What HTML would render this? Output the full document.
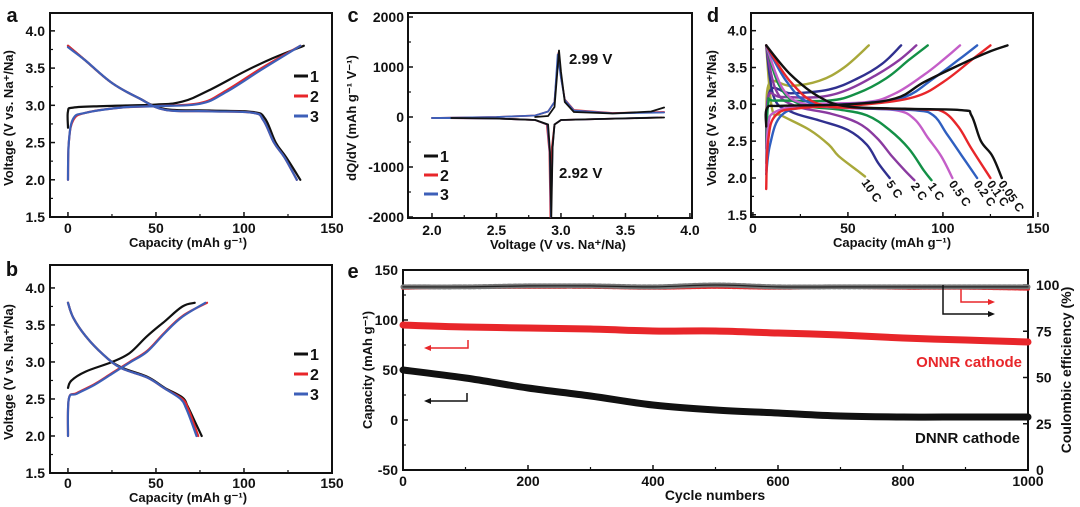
<!DOCTYPE html>
<html><head><meta charset="utf-8">
<style>
html,body{margin:0;padding:0;background:#fff;}
svg{display:block;font-family:"Liberation Sans",Arial,sans-serif;font-weight:bold;}
</style></head>
<body>
<svg id="fig" width="1080" height="507" viewBox="0 0 1080 507" xmlns="http://www.w3.org/2000/svg"></svg>
<script>
// ---------- DATA ----------
const aCharge1=[[0,2.7],[0,2.92],[3,2.97],[20,2.99],[50,3.01],[65,3.05],[80,3.2],[100,3.45],[115,3.62],[134,3.8]];
const aCharge2=[[0,2.0],[0.5,2.5],[3,2.8],[10,2.9],[30,2.97],[50,2.99],[75,3.03],[90,3.2],[110,3.5],[132,3.8]];
const aCharge3=[[0,2.0],[0.5,2.5],[3,2.82],[10,2.9],[30,2.97],[50,2.99],[75,3.02],[90,3.18],[110,3.48],[132,3.8]];
const aDis1=[[0,3.8],[10,3.6],[25,3.3],[40,3.1],[55,2.95],[80,2.93],[105,2.91],[112,2.82],[118,2.5],[124,2.3],[132,2.0]];
const aDis2=[[0,3.8],[10,3.6],[25,3.3],[40,3.1],[55,2.94],[80,2.92],[105,2.9],[111,2.8],[117,2.5],[123,2.3],[130,2.0]];
const aDis3=[[0,3.78],[10,3.6],[25,3.3],[40,3.1],[55,2.94],[80,2.92],[105,2.9],[111,2.8],[117,2.5],[123,2.3],[130,2.0]];
const bCharge1=[[0,2.65],[2,2.75],[10,2.87],[25,3.0],[35,3.12],[45,3.35],[55,3.55],[65,3.75],[72,3.8]];
const bCharge2=[[0,2.0],[0.5,2.5],[5,2.58],[15,2.7],[25,2.85],[35,3.0],[45,3.15],[55,3.4],[65,3.62],[79,3.8]];
const bCharge3=[[0,2.0],[0.5,2.5],[5,2.57],[15,2.69],[25,2.84],[35,2.99],[45,3.14],[55,3.39],[65,3.61],[78,3.8]];
const bDis1=[[0,3.8],[3,3.6],[10,3.35],[20,3.1],[30,2.93],[45,2.8],[55,2.65],[65,2.52],[68,2.4],[72,2.2],[76,2.0]];
const bDis2=[[0,3.8],[3,3.6],[10,3.35],[20,3.1],[30,2.92],[45,2.79],[55,2.64],[65,2.5],[68,2.38],[71,2.2],[74,2.0]];
const bDis3=[[0,3.8],[3,3.6],[10,3.35],[20,3.1],[30,2.92],[45,2.79],[55,2.64],[64,2.5],[67,2.38],[70,2.2],[73,2.0]];
const cCharge1=[[2.8,0],[2.9,20],[2.95,200],[2.985,1330],[3.0,900],[3.03,300],[3.1,100],[3.4,70],[3.7,110],[3.8,190]];
const cCharge2=[[2.0,-20],[2.5,0],[2.8,30],[2.9,110],[2.95,300],[2.98,1280],[3.0,800],[3.03,350],[3.1,140],[3.4,80],[3.8,100]];
const cCharge3=[[2.0,-20],[2.5,0],[2.8,30],[2.9,110],[2.95,300],[2.975,1250],[3.0,780],[3.03,340],[3.1,130],[3.4,75],[3.8,90]];
const cDis1=[[3.8,-10],[3.3,-40],[3.0,-60],[2.95,-150],[2.935,-600],[2.925,-2000],[2.915,-700],[2.9,-150],[2.8,-60],[2.5,-30],[2.15,-20]];
const cDis2=[[3.78,-10],[3.3,-40],[3.0,-60],[2.95,-150],[2.93,-600],[2.918,-2000],[2.91,-700],[2.89,-150],[2.8,-60],[2.5,-30],[2.0,-20]];
const cDis3=[[3.75,-10],[3.3,-40],[3.0,-60],[2.95,-150],[2.935,-600],[2.922,-2000],[2.913,-700],[2.895,-150],[2.8,-60],[2.5,-30],[2.0,-20]];
const dRates=["0.05 C","0.1 C","0.2 C","0.5 C","1 C","2 C","5 C","10 C"];
const dColors=["#111","#e8262a","#2f5fc0","#c45ec8","#139046","#8a3aa0","#30308f","#a8a83a"];
const dCharge=[
 [[7,2.7],[7.5,2.95],[15,2.98],[50,3.0],[75,3.08],[90,3.3],[110,3.55],[125,3.72],[134,3.8]],
 [[7,1.85],[8,2.5],[12,2.85],[25,2.95],[60,3.0],[85,3.1],[100,3.3],[115,3.6],[125,3.8]],
 [[7,2.05],[9,2.45],[15,2.85],[30,2.97],[60,3.02],[80,3.1],[95,3.35],[108,3.6],[118,3.8]],
 [[7,2.1],[8,2.7],[12,2.9],[30,3.0],[60,3.03],[75,3.15],[90,3.4],[100,3.6],[109,3.8]],
 [[7,2.2],[8,3.0],[12,3.05],[40,3.05],[55,3.15],[70,3.35],[82,3.6],[92,3.8]],
 [[7,2.4],[8,3.1],[15,3.1],[35,3.1],[50,3.2],[65,3.4],[77,3.6],[86,3.8]],
 [[7,2.5],[9,3.18],[20,3.15],[40,3.2],[55,3.35],[68,3.55],[78,3.8]],
 [[7,2.9],[9,3.3],[20,3.25],[35,3.32],[48,3.5],[61,3.8]]];
const dDis=[
 [[7,3.8],[20,3.4],[35,3.1],[50,2.97],[80,2.94],[110,2.92],[115,2.85],[120,2.5],[126,2.3],[131,2.0]],
 [[7,3.8],[20,3.3],[35,3.0],[60,2.95],[90,2.93],[100,2.9],[108,2.7],[115,2.4],[125,2.0]],
 [[7,3.8],[18,3.3],[30,3.02],[55,2.95],[85,2.92],[95,2.85],[102,2.6],[110,2.3],[118,2.0]],
 [[7,3.8],[16,3.2],[28,3.0],[50,2.95],[75,2.92],[85,2.8],[92,2.55],[99,2.3],[105,2.0]],
 [[7,3.8],[14,3.25],[25,3.0],[45,2.93],[60,2.85],[72,2.65],[82,2.4],[90,2.1],[94,1.97]],
 [[7,3.8],[12,3.2],[22,2.98],[40,2.88],[55,2.75],[65,2.55],[73,2.3],[80,2.1],[85,1.97]],
 [[7,3.8],[11,3.1],[20,2.9],[35,2.78],[50,2.65],[60,2.45],[66,2.2],[72,2.0]],
 [[7,3.8],[10,2.95],[15,2.85],[30,2.65],[40,2.45],[45,2.3],[55,2.1],[59,2.02]]];
const eCycles=[0,100,200,300,400,500,600,700,800,900,1000];
const eDNNR=[50,42,32,24,15,10,7,4,3,3,3];
const eONNR=[95,93,92,91,89,89,87,85,82,80,78];
const eCE_D=[99,99,99.5,99.5,99,100,99,99,99,99,99];
const eCE_O=[98.5,99,99,99,98.5,99,98.5,99,98.5,98.5,98];

// ---------- HELPERS ----------
const NS="http://www.w3.org/2000/svg";
const svg=document.getElementById('fig');
function mk(tag,attrs,parent){const e=document.createElementNS(NS,tag);for(const k in attrs)e.setAttribute(k,attrs[k]);(parent||svg).appendChild(e);return e;}
function txt(s,x,y,size,anchor,parent,extra){const t=mk('text',Object.assign({x:x,y:y,'font-size':size,'text-anchor':anchor||'middle',fill:'#111'},extra||{}),parent);t.textContent=s;return t;}
function axis(box,xd,yd){return {x:v=>box.l+(v-xd[0])/(xd[1]-xd[0])*(box.r-box.l),y:v=>box.b-(v-yd[0])/(yd[1]-yd[0])*(box.b-box.t),box:box};}
function frame(ax,g){const b=ax.box;const r=mk('rect',{x:b.l,y:b.t,width:b.r-b.l,height:b.b-b.t,fill:'none',stroke:'#111','stroke-width':2},g);}
function xticks(ax,g,vals,minor,fmt,ly){const b=ax.box;vals.forEach(v=>{mk('line',{x1:ax.x(v),x2:ax.x(v),y1:b.b,y2:b.b-5,stroke:'#111','stroke-width':1.5},g);const t=txt(fmt(v),ax.x(v),ly,14,'middle',g);});minor.forEach(v=>mk('line',{x1:ax.x(v),x2:ax.x(v),y1:b.b,y2:b.b-3,stroke:'#111','stroke-width':1.2},g));}
function yticks(ax,g,vals,minor,fmt,lx){const b=ax.box;vals.forEach(v=>{mk('line',{x1:b.l,x2:b.l+5,y1:ax.y(v),y2:ax.y(v),stroke:'#111','stroke-width':1.5},g);const t=txt(fmt(v),lx,ax.y(v)+5,14,'end',g);});minor.forEach(v=>mk('line',{x1:b.l,x2:b.l+3,y1:ax.y(v),y2:ax.y(v),stroke:'#111','stroke-width':1.2},g));}
function smoothD(P){if(P.length<3)return P.map((p,i)=>(i?'L':'M')+p[0].toFixed(1)+','+p[1].toFixed(1)).join(' ');let d='M'+P[0][0].toFixed(1)+','+P[0][1].toFixed(1);for(let i=0;i<P.length-1;i++){const p0=P[Math.max(0,i-1)],p1=P[i],p2=P[i+1],p3=P[Math.min(P.length-1,i+2)];const t=0.18;const c1=[p1[0]+(p2[0]-p0[0])*t,p1[1]+(p2[1]-p0[1])*t],c2=[p2[0]-(p3[0]-p1[0])*t,p2[1]-(p3[1]-p1[1])*t];d+=' C'+c1[0].toFixed(1)+','+c1[1].toFixed(1)+' '+c2[0].toFixed(1)+','+c2[1].toFixed(1)+' '+p2[0].toFixed(1)+','+p2[1].toFixed(1);}return d;}
function curve(ax,g,pts,color,w,name,sharp){const P=pts.map(p=>[ax.x(p[0]),ax.y(p[1])]);const d=sharp?P.map((p,i)=>(i?'L':'M')+p[0].toFixed(1)+','+p[1].toFixed(1)).join(' '):smoothD(P);const p=mk('path',{d:d,fill:'none',stroke:color,'stroke-width':w||2.2,'stroke-linejoin':'round','stroke-linecap':'round'},g);return p;}
function rng(a,b,s){const r=[];for(let v=a;v<=b+1e-9;v+=s)r.push(+v.toFixed(6));return r;}
function group(name){const g=mk('g',{});return g;}
function legend(g,x,y,dy){[['1','#111'],['2','#e8262a'],['3','#3d5fb8']].forEach((e,i)=>{const lg=mk('g',{},g);mk('line',{x1:x,x2:x+14,y1:y+i*dy,y2:y+i*dy,stroke:e[1],'stroke-width':3},lg);txt(e[0],x+16,y+i*dy+6,16,'start',lg);});}
function vtitle(s,x,y,g,name,size){const t=txt(s,x,y,size||13,'middle',g,{transform:'rotate(-90 '+x+' '+y+')'});return t;}
const f1=v=>v.toFixed(1), f0=v=>String(v);

// ---------- PANEL A ----------
(function(){const g=group('panel-a');const ax=axis({l:50,r:332,t:13,b:217},[-10.2,150],[1.5,4.24]);
frame(ax,g);xticks(ax,g,[0,50,100,150],[25,75,125],f0,233);yticks(ax,g,rng(1.5,4.0,0.5),rng(1.75,4.0,0.5),f1,45);
const l=txt('a',12,22,20,'middle',g);
const xt=txt('Capacity (mAh g\u207B\u00B9)',188,247,13,'middle',g);
vtitle('Voltage (V vs. Na\u207A/Na)',13,118,g,'y-axis-title');
curve(ax,g,aCharge1,'#111',2.2,'charge-cycle-1');curve(ax,g,aDis1,'#111',2.2,'discharge-cycle-1');
curve(ax,g,aCharge2,'#e8262a',2.2,'charge-cycle-2');curve(ax,g,aDis2,'#e8262a',2.2,'discharge-cycle-2');
curve(ax,g,aCharge3,'#3d5fb8',2.2,'charge-cycle-3');curve(ax,g,aDis3,'#3d5fb8',2.2,'discharge-cycle-3');
legend(g,294,76,20);})();

// ---------- PANEL B ----------
(function(){const g=group('panel-b');const ax=axis({l:50,r:332,t:265,b:473},[-10.2,150],[1.5,4.31]);
frame(ax,g);xticks(ax,g,[0,50,100,150],[25,75,125],f0,488);yticks(ax,g,rng(1.5,4.0,0.5),rng(1.75,4.0,0.5),f1,45);
const l=txt('b',12,276,20,'middle',g);
const xt=txt('Capacity (mAh g\u207B\u00B9)',188,502,13,'middle',g);
vtitle('Voltage (V vs. Na\u207A/Na)',13,372,g,'y-axis-title');
curve(ax,g,bCharge1,'#111',2.2,'charge-cycle-1');curve(ax,g,bDis1,'#111',2.2,'discharge-cycle-1');
curve(ax,g,bCharge2,'#e8262a',2.2,'charge-cycle-2');curve(ax,g,bDis2,'#e8262a',2.2,'discharge-cycle-2');
curve(ax,g,bCharge3,'#3d5fb8',2.2,'charge-cycle-3');curve(ax,g,bDis3,'#3d5fb8',2.2,'discharge-cycle-3');
legend(g,294,354,20);})();

// ---------- PANEL C ----------
(function(){const g=group('panel-c');const ax=axis({l:408,r:692,t:13,b:218},[1.814,4.016],[-2020,2080]);
frame(ax,g);xticks(ax,g,rng(2.0,4.0,0.5),rng(2.25,3.75,0.5),f1,235);yticks(ax,g,[-2000,-1000,0,1000,2000],[-1500,-500,500,1500],f0,404);
const l=txt('c',353,22,20,'middle',g);
const xt=txt('Voltage (V vs. Na\u207A/Na)',558,249,13,'middle',g);
vtitle('dQ/dV (mAh g\u207B\u00B9 V\u207B\u00B9)',356,118,g,'y-axis-title');
curve(ax,g,cCharge2,'#e8262a',1.8,'charge-cycle-2',true);curve(ax,g,cDis2,'#e8262a',1.8,'discharge-cycle-2',true);
curve(ax,g,cCharge3,'#3d5fb8',1.8,'charge-cycle-3',true);curve(ax,g,cDis3,'#3d5fb8',1.8,'discharge-cycle-3',true);
curve(ax,g,cCharge1,'#111',1.8,'charge-cycle-1',true);curve(ax,g,cDis1,'#111',1.8,'discharge-cycle-1',true);
const p1=txt('2.99 V',569,64,15,'start',g);
const p2=txt('2.92 V',559,178,15,'start',g);
legend(g,424,156,19);})();

// ---------- PANEL D ----------
(function(){const g=group('panel-d');const ax=axis({l:751,r:1033,t:13,b:217},[-1,147.4],[1.47,4.24]);
frame(ax,g);xticks(ax,g,[0,50,100,150],[25,75,125],f0,233);yticks(ax,g,rng(1.5,4.0,0.5),rng(1.75,4.0,0.5),f1,747);
const l=txt('d',713,22,20,'middle',g);
const xt=txt('Capacity (mAh g\u207B\u00B9)',892,247,13,'middle',g);
vtitle('Voltage (V vs. Na\u207A/Na)',716,118,g,'y-axis-title');
for(let i=dRates.length-1;i>=0;i--){curve(ax,g,dCharge[i],dColors[i],2.4,'charge-'+dRates[i].replace(/\s/g,''));curve(ax,g,dDis[i],dColors[i],2.4,'discharge-'+dRates[i].replace(/\s/g,''));}
dRates.forEach((r,i)=>{const last=dDis[i][dDis[i].length-1];const x=ax.x(last[0])-4,y=ax.y(last[1])+6;const t=txt(r,x,y,12,'start',g,{transform:'rotate(55 '+x+' '+y+')'});});})();

// ---------- PANEL E ----------
(function(){const g=group('panel-e');const ax=axis({l:403,r:1028,t:270,b:470},[0,1000],[-50,150]);
const ce=v=>470-v*1.85;
frame(ax,g);xticks(ax,g,rng(0,1000,200),rng(100,900,200),f0,486);yticks(ax,g,[-50,0,50,100,150],[-25,25,75,125],f0,398);
const b=ax.box;[0,25,50,75,100].forEach(v=>{mk('line',{x1:b.r,x2:b.r-5,y1:ce(v),y2:ce(v),stroke:'#111','stroke-width':1.5},g);const t=txt(String(v),b.r+8,ce(v)+5,14,'start',g);});
const l=txt('e',353,278,20,'middle',g);
const xt=txt('Cycle numbers',715,500,14,'middle',g);
vtitle('Capacity (mAh g\u207B\u00B9)',372,370,g,'y-axis-title');
vtitle('Coulombic efficiency (%)',1071,370,g,'right-y-axis-title',14);
const mkPts=(ys)=>eCycles.map((c,i)=>[c,ys[i]]);
curve(ax,g,mkPts(eONNR),'#e8262a',7,'onnr-capacity');
curve(ax,g,mkPts(eDNNR),'#111',7,'dnnr-capacity');
const ceAx={x:ax.x,y:ce};
const o=curve(ceAx,g,mkPts(eCE_O),'#e8262a',4,'onnr-coulombic-efficiency');o.setAttribute('stroke-dasharray','3 2');
const d=curve(ceAx,g,mkPts(eCE_D),'#777',5,'dnnr-coulombic-efficiency');d.setAttribute('stroke-dasharray','3 2');
curve(ceAx,g,mkPts(eCE_D),'#222',1.2,'dnnr-ce-outline');
const arr=(pts,c,name)=>{const p=mk('polyline',{points:pts,fill:'none',stroke:c,'stroke-width':1.5},g);};
arr('468,340 468,348 428,348','#e8262a','onnr-left-arrow');mk('path',{d:'M424,348 l7,-3 v6z',fill:'#e8262a'},g);
arr('467,393 467,401 428,401','#111','dnnr-left-arrow');mk('path',{d:'M424,401 l7,-3 v6z',fill:'#111'},g);
arr('961,289 961,302 990,302','#e8262a','onnr-right-arrow');mk('path',{d:'M995,302 l-7,-3 v6z',fill:'#e8262a'},g);
arr('943,285 943,314 990,314','#111','dnnr-right-arrow');mk('path',{d:'M995,314 l-7,-3 v6z',fill:'#111'},g);
const on=txt('ONNR cathode',1022,367,15,'end',g,{fill:'#e8262a'});
const dn=txt('DNNR cathode',1020,443,15,'end',g);})();
</script>
</body></html>
